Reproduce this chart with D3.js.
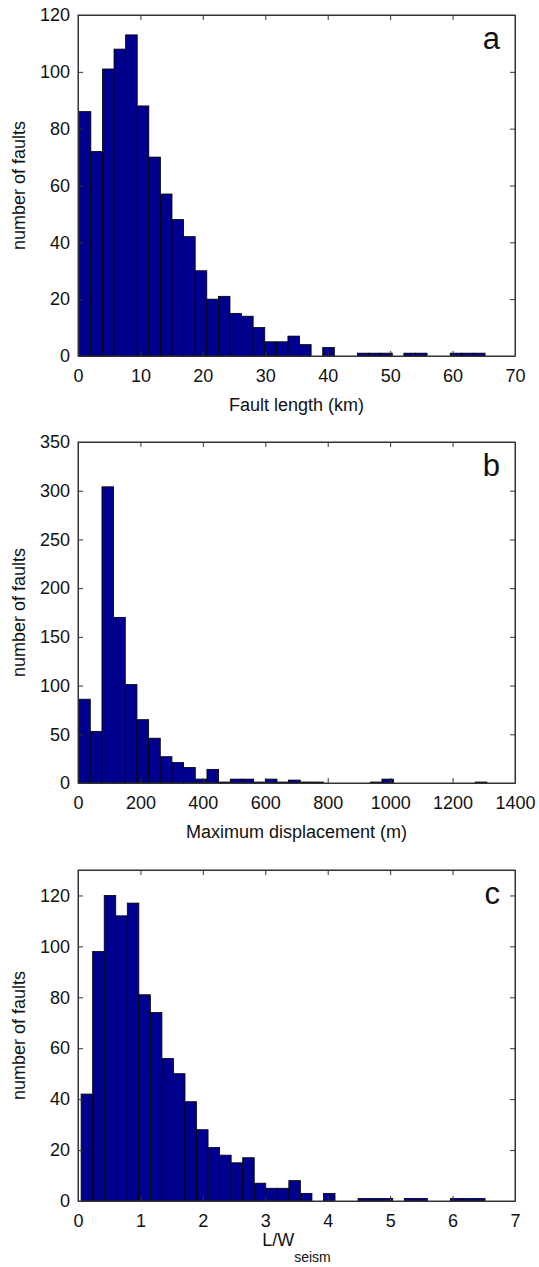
<!DOCTYPE html>
<html>
<head>
<meta charset="utf-8">
<script src="https://cdn.jsdelivr.net/npm/d3@7"></script>
<style>
  body { margin: 0; background: #fff; }
  svg { display: block; font-family: "Liberation Sans", Arial, sans-serif; }
  .axis path, .axis line { stroke: #333; }
  .axis text { font-family: "Liberation Sans", Arial, sans-serif; font-size: 18px; fill: #111; }
  .bar { fill: #00008f; stroke: #000; stroke-width: 0.8; }
</style>
</head>
<body>
<svg id="chart" width="539" height="1267"></svg>
<script>
// histogram counts, 35 bins each
const lengthCounts = [86, 72, 101, 108, 113, 88, 70, 57, 48, 42, 30, 20, 21, 15, 14, 10, 5, 5, 7, 4,
                      0, 3, 0, 0, 1, 1, 1, 0, 1, 1, 0, 0, 1, 1, 1];
const lengthBins = [0.2, 65.2]; // km, first and last bin edge
const lengthTicks = [0, 10, 20, 30, 40, 50, 60, 70];
const countTicksA = [0, 20, 40, 60, 80, 100, 120];

const displacementCounts = [86, 53, 304, 170, 101, 65, 46, 27, 21, 16, 4, 14, 1, 4, 4, 1, 4, 1, 3, 1,
                            1, 0, 0, 0, 0, 1, 4, 0, 0, 0, 0, 0, 0, 0, 1];
const displacementBins = [2, 1310]; // m
const displacementTicks = [0, 200, 400, 600, 800, 1000, 1200, 1400];
const countTicksB = [0, 50, 100, 150, 200, 250, 300, 350];

const ratioCounts = [42, 98, 120, 112, 117, 81, 74, 56, 50, 39, 28, 21, 18, 15, 17, 7, 5, 5, 8, 3,
                     0, 3, 0, 0, 1, 1, 1, 0, 1, 1, 0, 0, 1, 1, 1];
const ratioBins = [0.05, 6.52];
const ratioTicks = [0, 1, 2, 3, 4, 5, 6, 7];
const countTicksC = [0, 20, 40, 60, 80, 100, 120];

const svg = d3.select("#chart");
const left = 78, right = 515;
const fmt = d => String(d); // plain labels, no thousands separator

const panels = [
  { counts: lengthCounts, bins: lengthBins, xTicks: lengthTicks, yTicks: countTicksA,
    yMax: 120, top: 15, bottom: 356, letter: "a", xLabel: "Fault length (km)" },
  { counts: displacementCounts, bins: displacementBins, xTicks: displacementTicks, yTicks: countTicksB,
    yMax: 350, top: 442, bottom: 783, letter: "b", xLabel: "Maximum displacement (m)" },
  { counts: ratioCounts, bins: ratioBins, xTicks: ratioTicks, yTicks: countTicksC,
    yMax: 130, top: 870, bottom: 1201, letter: "c", xLabel: null }
];

panels.forEach(p => {
  const x = d3.scaleLinear().domain([p.xTicks[0], p.xTicks[p.xTicks.length - 1]]).range([left, right]);
  const y = d3.scaleLinear().domain([0, p.yMax]).range([p.bottom, p.top]);
  const step = (p.bins[1] - p.bins[0]) / p.counts.length;
  const g = svg.append("g");

  // bars
  g.selectAll("rect.bar")
    .data(p.counts.map((c, i) => ({ c: c, x0: p.bins[0] + i * step, x1: p.bins[0] + (i + 1) * step })).filter(d => d.c > 0))
    .enter().append("rect")
    .attr("class", "bar")
    .attr("x", d => x(d.x0))
    .attr("width", d => x(d.x1) - x(d.x0))
    .attr("y", d => y(d.c))
    .attr("height", d => y(0) - y(d.c));

  // axes, ticks pointing inward on all four sides
  g.append("g").attr("class", "axis").attr("transform", `translate(0,${p.bottom})`)
    .call(d3.axisBottom(x).tickValues(p.xTicks).tickFormat(fmt).tickSizeInner(-5).tickSizeOuter(0).tickPadding(13))
    .call(a => a.selectAll("text").attr("dy", "0.71em"));
  g.append("g").attr("class", "axis").attr("transform", `translate(0,${p.top})`)
    .call(d3.axisTop(x).tickValues(p.xTicks).tickSizeInner(-5).tickSizeOuter(0).tickFormat(""));
  g.append("g").attr("class", "axis").attr("transform", `translate(${left},0)`)
    .call(d3.axisLeft(y).tickValues(p.yTicks).tickFormat(fmt).tickSizeInner(-5).tickSizeOuter(0).tickPadding(8));
  g.append("g").attr("class", "axis").attr("transform", `translate(${right},0)`)
    .call(d3.axisRight(y).tickValues(p.yTicks).tickSizeInner(-5).tickSizeOuter(0).tickFormat(""));
  g.append("rect")
    .attr("x", left).attr("y", p.top)
    .attr("width", right - left).attr("height", p.bottom - p.top)
    .attr("fill", "none").attr("stroke", "#333");

  // panel letter
  g.append("text")
    .attr("x", 500).attr("y", p.top + 34)
    .attr("text-anchor", "end")
    .attr("font-size", 31).attr("fill", "#111")
    .text(p.letter);

  // y label
  g.append("text")
    .attr("transform", `translate(25,${(p.top + p.bottom) / 2}) rotate(-90)`)
    .attr("text-anchor", "middle")
    .attr("font-size", 18).attr("fill", "#111")
    .text("number of faults");

  // x label
  if (p.xLabel) {
    g.append("text")
      .attr("x", (left + right) / 2).attr("y", p.bottom + 55)
      .attr("text-anchor", "middle")
      .attr("font-size", 18).attr("fill", "#111")
      .text(p.xLabel);
  } else {
    const t = g.append("text")
      .attr("x", (left + right) / 2).attr("y", p.bottom + 45)
      .attr("text-anchor", "middle")
      .attr("font-size", 18).attr("fill", "#111");
    t.append("tspan").text("L/W");
    t.append("tspan").attr("font-size", 14).attr("dy", 16).text("seism");
  }
});
</script>
</body>
</html>
